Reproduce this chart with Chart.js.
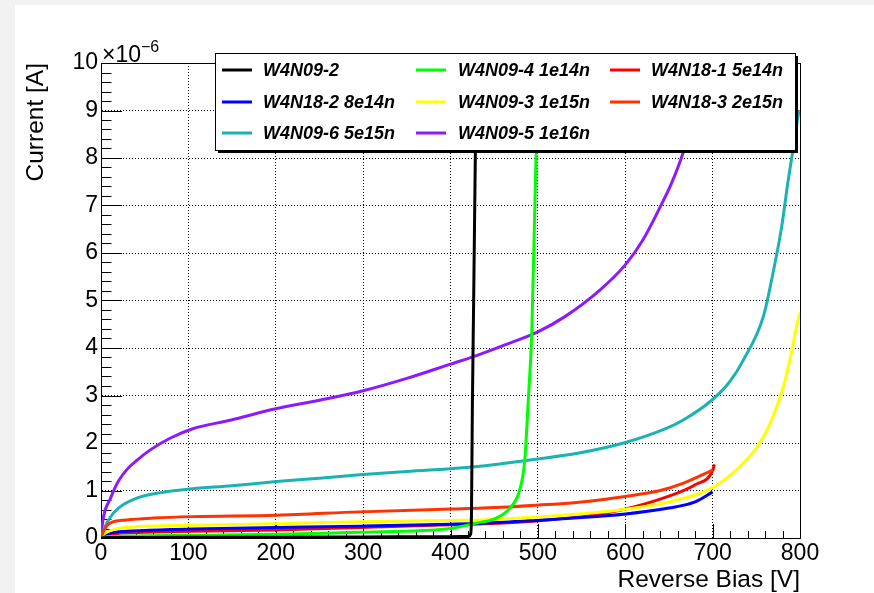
<!DOCTYPE html>
<html><head><meta charset="utf-8">
<script src="https://cdn.jsdelivr.net/npm/chart.js@4.4.1/dist/chart.umd.min.js"></script>
<style>
html,body{margin:0;padding:0;background:#f2f2f2;width:874px;height:593px;overflow:hidden}
#wrap{position:absolute;left:15px;top:5px;width:859px;height:588px;background:#fff}
canvas{display:block}
</style></head><body>
<div id="wrap"><canvas id="c" width="859" height="588"></canvas></div>
<script>
// ---- data (Reverse Bias in V, Current in units of 1e-6 A) ----
const seriesNames = ['W4N09-2','W4N09-4 1e14n','W4N18-1 5e14n','W4N18-2 8e14n','W4N09-3 1e15n','W4N18-3 2e15n','W4N09-6 5e15n','W4N09-5 1e16n'];
const seriesColors = ['#000000','#00ff00','#ff0000','#0000ff','#ffff00','#ff3300','#1ab3b3','#8c1aff'];
const drawOrder = [1,2,6,5,4,3,7,8];

const v_W4N09_2 = [0, 10, 50, 120, 200, 300, 400, 420, 423, 424, 425, 426.5, 428, 430];
const i_W4N09_2 = [0, 0.01, 0.012, 0.015, 0.018, 0.022, 0.028, 0.03, 0.08, 0.5, 2.7, 5.0, 7.4, 10.5];

const v_W4N09_4 = [0, 10, 50, 120, 200, 296, 343, 400, 428, 451, 468, 479, 485, 489, 493, 497, 500, 503];
const i_W4N09_4 = [0, 0.03, 0.045, 0.06, 0.08, 0.12, 0.14, 0.2, 0.31, 0.41, 0.63, 1.0, 1.64, 2.9, 4.31, 7.36, 9.5, 11];

const v_W4N18_1 = [0, 3, 10, 20, 50, 105, 200, 296, 400, 437, 498, 550, 598, 650, 680, 700, 702];
const i_W4N18_1 = [0, 0.05, 0.08, 0.1, 0.12, 0.14, 0.17, 0.22, 0.28, 0.3, 0.36, 0.45, 0.6, 0.88, 1.12, 1.42, 1.55];

const v_W4N18_2 = [0, 3, 10, 20, 50, 105, 200, 296, 400, 437, 498, 550, 598, 650, 680, 700];
const i_W4N18_2 = [0, 0.05, 0.1, 0.13, 0.16, 0.19, 0.22, 0.25, 0.29, 0.31, 0.37, 0.43, 0.5, 0.63, 0.76, 0.97];

const v_W4N09_3 = [0, 3, 10, 20, 41, 105, 200, 296, 400, 437, 498, 550, 598, 650, 699, 731, 754, 769, 781, 790, 796, 800];
const i_W4N09_3 = [0, 0.08, 0.15, 0.2, 0.24, 0.27, 0.3, 0.34, 0.37, 0.38, 0.44, 0.51, 0.6, 0.76, 1.05, 1.5, 2.0, 2.55, 3.19, 3.89, 4.45, 4.75];

const v_W4N18_3 = [0, 3, 10, 29, 60, 105, 201, 296, 400, 437, 498, 550, 598, 640, 666, 700];
const i_W4N18_3 = [0, 0.15, 0.31, 0.38, 0.42, 0.45, 0.48, 0.55, 0.61, 0.63, 0.69, 0.76, 0.87, 1.0, 1.15, 1.43];

const v_W4N09_6 = [0, 3, 10, 20, 41, 67, 102, 150, 201, 250, 296, 350, 428, 498, 550, 598, 647, 666, 699, 720, 735, 758, 769, 779, 786, 792, 798, 800];
const i_W4N09_6 = [0, 0.17, 0.42, 0.63, 0.84, 0.95, 1.03, 1.1, 1.19, 1.26, 1.33, 1.4, 1.5, 1.66, 1.8, 2.0, 2.31, 2.48, 2.9, 3.3, 3.74, 4.66, 5.57, 6.55, 7.47, 8.17, 8.9, 9.0];

const v_W4N09_5 = [0, 2, 5, 10, 15, 20, 30, 40, 56, 79, 105, 148, 200, 250, 300, 350, 400, 428, 460, 500, 530, 571, 600, 620, 640, 653, 666, 680, 695];
const i_W4N09_5 = [0, 0.35, 0.6, 0.8, 1.02, 1.2, 1.45, 1.62, 1.85, 2.1, 2.3, 2.48, 2.72, 2.9, 3.1, 3.36, 3.66, 3.83, 4.05, 4.34, 4.65, 5.22, 5.75, 6.27, 6.97, 7.47, 8.1, 9.0, 10.3];

const seriesV = [v_W4N09_2, v_W4N09_4, v_W4N18_1, v_W4N18_2, v_W4N09_3, v_W4N18_3, v_W4N09_6, v_W4N09_5];
const seriesI = [i_W4N09_2, i_W4N09_4, i_W4N18_1, i_W4N18_2, i_W4N09_3, i_W4N18_3, i_W4N09_6, i_W4N09_5];

const xMin = 0, xMax = 800, xMajor = 100, xMinor = 20;
const yMin = 0, yMax = 10, yMajor = 1, yMinor = 0.2;
const xTitle = 'Reverse Bias [V]';
const yTitle = 'Current [A]';
const yMultiplier = '\u00d710';
const yExponent = '\u22126';

const FONT = '"Liberation Sans", Arial, Helvetica, sans-serif';

const datasets = seriesNames.map((name, k) => ({
  label: name,
  data: seriesV[k].map((v, j) => ({x: v, y: seriesI[k][j]})),
  borderColor: seriesColors[k],
  backgroundColor: seriesColors[k],
  borderWidth: 3,
  pointRadius: 0,
  fill: false,
  cubicInterpolationMode: 'monotone',
  order: drawOrder[k]
}));

const rootAxes = {
  id: 'rootAxes',
  beforeDatasetsDraw(chart) {
    const {ctx, chartArea: a, scales: {x, y}} = chart;
    ctx.save();
    ctx.strokeStyle = '#000';
    ctx.lineWidth = 1;
    ctx.beginPath();
    for (let v = xMin; v <= xMax + 1e-9; v += xMinor) {
      const px = Math.round(x.getPixelForValue(v)) + 0.5;
      const major = Math.abs(v / xMajor - Math.round(v / xMajor)) < 1e-6;
      const len = major ? 14 : 7;
      ctx.moveTo(px, a.bottom);
      ctx.lineTo(px, a.bottom - len);
    }
    for (let v = yMin; v <= yMax + 1e-9; v += yMinor) {
      const py = Math.round(y.getPixelForValue(v)) + 0.5;
      const major = Math.abs(v / yMajor - Math.round(v / yMajor)) < 1e-6;
      const len = major ? 21 : 10.5;
      ctx.moveTo(a.left, py);
      ctx.lineTo(a.left + len, py);
    }
    ctx.stroke();
    ctx.strokeRect(Math.round(a.left) + 0.5, Math.round(a.top) + 0.5, Math.round(a.right - a.left), Math.round(a.bottom - a.top));
    ctx.restore();
  },
  afterDraw(chart) {
    const {ctx, chartArea: a} = chart;
    ctx.save();
    ctx.fillStyle = '#000';
    ctx.textBaseline = 'alphabetic';
    ctx.textAlign = 'left';
    ctx.font = '23px ' + FONT;
    ctx.fillText(yMultiplier, a.left + 1, a.top - 1);
    const w = ctx.measureText(yMultiplier).width;
    ctx.font = '16px ' + FONT;
    ctx.fillText(yExponent, a.left + 1 + w, a.top - 11);
    ctx.restore();
  }
};

const rootLegend = {
  id: 'rootLegend',
  afterDraw(chart) {
    const {ctx} = chart;
    const L = 200, T = 48, R = 780, B = 145;
    ctx.save();
    ctx.fillStyle = '#000';
    ctx.fillRect(L + 3, T + 3, R - L, B - T);
    ctx.fillStyle = '#fff';
    ctx.fillRect(L, T, R - L, B - T);
    ctx.strokeStyle = '#000';
    ctx.lineWidth = 1;
    ctx.strokeRect(L + 0.5, T + 0.5, R - L, B - T);
    const colLine = [207, 401, 595];
    const colText = [248, 443, 636];
    const rowY = [65, 97, 128];
    ctx.font = 'italic bold 18px ' + FONT;
    ctx.textBaseline = 'middle';
    ctx.textAlign = 'left';
    chart.data.datasets.forEach((ds, k) => {
      const c = k % 3, r = Math.floor(k / 3);
      ctx.strokeStyle = ds.borderColor;
      ctx.lineWidth = 3;
      ctx.beginPath();
      ctx.moveTo(colLine[c], rowY[r]);
      ctx.lineTo(colLine[c] + 30, rowY[r]);
      ctx.stroke();
      ctx.fillStyle = '#000';
      ctx.fillText(ds.label, colText[c], rowY[r] + 1);
    });
    ctx.restore();
  }
};

new Chart(document.getElementById('c'), {
  type: 'line',
  data: {datasets},
  options: {
    responsive: false,
    animation: false,
    devicePixelRatio: 1,
    layout: {padding: {left: 0, top: 58, right: 74, bottom: 0}},
    plugins: {legend: {display: false}, tooltip: {enabled: false}},
    scales: {
      x: {
        type: 'linear', min: xMin, max: xMax,
        ticks: {stepSize: xMajor, autoSkip: false, maxRotation: 0, color: '#000', padding: 1.5,
                font: {family: FONT, size: 23}},
        grid: {display: true, drawTicks: false, color: '#000', lineWidth: 1},
        border: {display: true, color: '#000', width: 1, dash: [1, 2]},
        title: {display: true, text: xTitle, align: 'end', color: '#000',
                font: {family: FONT, size: 24.5, lineHeight: 1}, padding: {top: 0, bottom: 1}},
        afterFit(s) { s.height = 55; s.paddingLeft = 0; s.paddingRight = 0; }
      },
      y: {
        type: 'linear', min: yMin, max: yMax,
        ticks: {stepSize: yMajor, color: '#000', padding: 3, font: {family: FONT, size: 23}},
        grid: {display: true, drawTicks: false, color: '#000', lineWidth: 1},
        border: {display: true, color: '#000', width: 1, dash: [1, 2]},
        title: {display: true, text: yTitle, align: 'end', color: '#000',
                font: {family: FONT, size: 24.5, lineHeight: 1}, padding: {top: 9, bottom: 0}},
        afterFit(s) { s.width = 86; s.paddingTop = 0; s.paddingBottom = 0; }
      }
    }
  },
  plugins: [rootAxes, rootLegend]
});
</script>
</body></html>
